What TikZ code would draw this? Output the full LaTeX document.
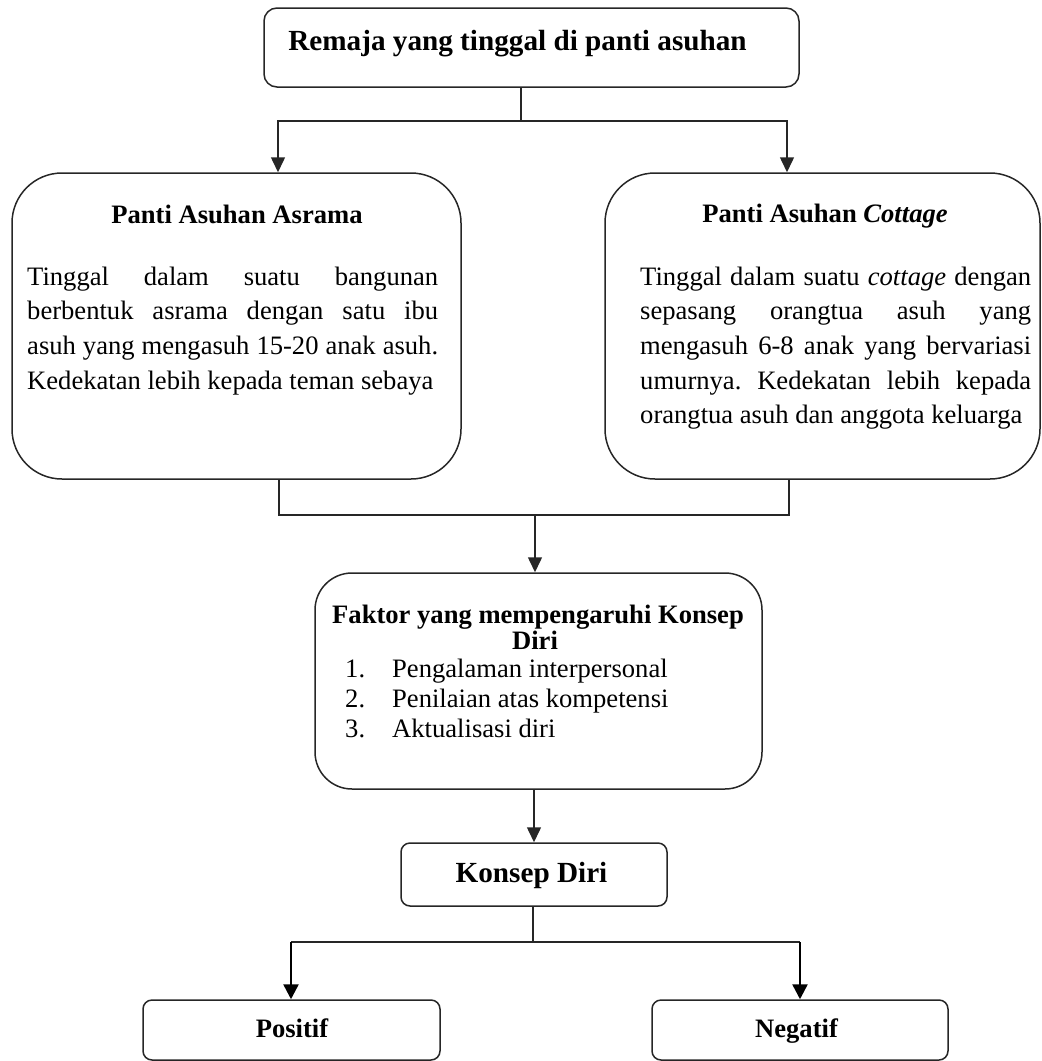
\documentclass[tikz,border=0pt]{standalone}
\usepackage{fontspec}
\setmainfont{Liberation Serif}
\usetikzlibrary{arrows.meta}
\frenchspacing
\tikzset{
  box/.style={draw=black!85, line width=1.5pt, rectangle, inner sep=0pt},
  conn/.style={draw=black!85, line width=1.5pt},
  arr/.style={conn, -{Triangle[width=14pt,length=15pt]}},
  thickarr/.style={draw=black, line width=2.5pt, -{Triangle[width=15pt,length=15pt]}},
  bodytxt/.style={inner sep=0pt, anchor=base west, font=\fontsize{26.6}{32}\selectfont},
  headtxt/.style={inner sep=0pt, anchor=base, font=\fontsize{26.6}{32}\selectfont\bfseries},
  titletxt/.style={inner sep=0pt, anchor=base, font=\fontsize{29.2}{34}\selectfont\bfseries},
}
\newcommand{\jl}[2]{\makebox[#1][s]{#2}}
\begin{document}
\begin{tikzpicture}[x=1pt,y=-1pt]
\useasboundingbox (0,0) rectangle (1042,1061);

% boxes
\node[box, rounded corners=13pt, minimum width=535pt, minimum height=79pt] (top) at (531.5,47.5) {};
\node[box, rounded corners=50pt, minimum width=449pt, minimum height=306pt] (left) at (236.5,326) {};
\node[box, rounded corners=50pt, minimum width=435pt, minimum height=306pt] (right) at (822.5,326) {};
\node[box, rounded corners=37pt, minimum width=447pt, minimum height=216pt] (mid) at (538.5,681) {};
\node[box, rounded corners=9pt, minimum width=266pt, minimum height=63pt] (konsep) at (534,874.5) {};
\node[box, rounded corners=9pt, minimum width=297pt, minimum height=60pt] (pos) at (291.5,1030) {};
\node[box, rounded corners=9pt, minimum width=296pt, minimum height=60pt] (neg) at (800,1030) {};

% texts
\node[titletxt] (ttop) at (517.5,50) {Remaja yang tinggal di panti asuhan};

\node[headtxt] (hleft) at (237,223) {Panti Asuhan Asrama};
\node[bodytxt] (l1) at (27,285) {\jl{411pt}{Tinggal dalam suatu bangunan}};
\node[bodytxt] (l2) at (27,319.7) {\jl{411pt}{berbentuk asrama dengan satu ibu}};
\node[bodytxt] (l3) at (27,354.4) {\jl{411pt}{asuh yang mengasuh 15-20 anak asuh.}};
\node[bodytxt] (l4) at (27,389.1) {Kedekatan lebih kepada teman sebaya};

\node[headtxt] (hright) at (825,222) {Panti Asuhan \textit{Cottage}};
\node[bodytxt] (r1) at (640,285) {\jl{391pt}{Tinggal dalam suatu \textit{cottage} dengan}};
\node[bodytxt] (r2) at (640,319.7) {\jl{391pt}{sepasang orangtua asuh yang}};
\node[bodytxt] (r3) at (640,354.4) {\jl{391pt}{mengasuh 6-8 anak yang bervariasi}};
\node[bodytxt] (r4) at (640,389.1) {\jl{391pt}{umurnya. Kedekatan lebih kepada}};
\node[bodytxt] (r5) at (640,423.8) {orangtua asuh dan anggota keluarga};

\node[headtxt] (hmid1) at (538,623) {Faktor yang mempengaruhi Konsep};
\node[headtxt] (hmid2) at (535,649) {Diri};
\node[bodytxt] (n1) at (345,677) {1.};
\node[bodytxt] (m1) at (392,677) {Pengalaman interpersonal};
\node[bodytxt] (n2) at (345,707) {2.};
\node[bodytxt] (m2) at (392,707) {Penilaian atas kompetensi};
\node[bodytxt] (n3) at (345,737) {3.};
\node[bodytxt] (m3) at (392,737) {Aktualisasi diri};

\node[titletxt] (tkonsep) at (531.5,882) {Konsep Diri};
\node[headtxt] (tpos) at (292,1037) {Positif};
\node[headtxt] (tneg) at (796.5,1037) {Negatif};

% connectors
\coordinate (j1) at (521,121);
\draw[conn] (top.south -| j1) -- (j1);
\draw[arr] (j1) -| ([xshift=41.5pt]left.north);
\draw[arr] (j1) -| ([xshift=-35.5pt]right.north);

\coordinate (j2) at (535,515);
\draw[conn] ([xshift=42.5pt]left.south) |- (j2) -| ([xshift=-33.5pt]right.south);
\draw[arr] (j2) -- (j2 |- mid.north);

\draw[arr] (mid.south -| konsep.north) -- (konsep.north);

\coordinate (j3) at (533,942);
\coordinate (p1) at (291,942);
\coordinate (q1) at (800,942);
\draw[conn] (konsep.south -| j3) -- (j3);
\draw[conn] (p1) -- (q1);
\draw[thickarr] (p1) -- (p1 |- pos.north);
\draw[thickarr] (q1) -- (q1 |- neg.north);
\end{tikzpicture}
\end{document}
